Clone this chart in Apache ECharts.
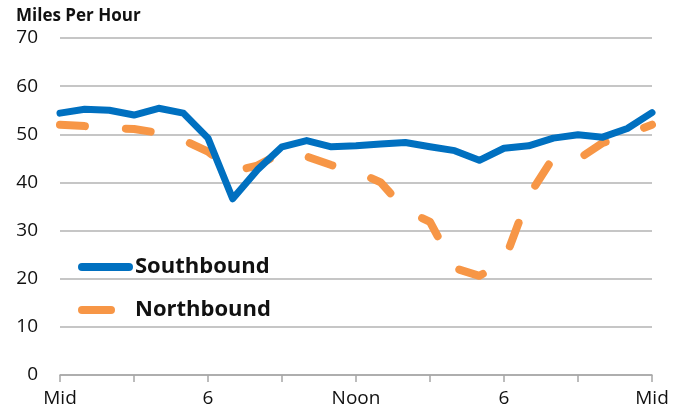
<!DOCTYPE html>
<html>
<head>
<meta charset="utf-8">
<script src="https://cdn.jsdelivr.net/npm/echarts@6/dist/echarts.min.js"></script>
<style>
  html, body { margin: 0; padding: 0; background: #fff; }
  #chart { width: 686px; height: 416px; }
</style>
</head>
<body>
<div id="chart"></div>
<script>
// hours after midnight, one reading per hour
const hours = [0, 1, 2, 3, 4, 5, 6, 7, 8, 9, 10, 11, 12, 13, 14, 15, 16, 17, 18, 19, 20, 21, 22, 23, 24];
const southbound = [54.4, 55.2, 55.0, 54.0, 55.4, 54.4, 49.2, 36.6, 42.6, 47.4, 48.7, 47.4, 47.6, 48.0, 48.3, 47.4, 46.6, 44.6, 47.1, 47.6, 49.2, 49.9, 49.4, 51.2, 54.5];
const northbound = [52.0, 51.7, 51.3, 51.1, 50.3, 48.8, 46.4, 42.3, 43.5, 46.2, 45.4, 43.6, 42.3, 40.0, 34.3, 31.8, 22.2, 20.6, 23.5, 37.2, 45.2, 44.8, 48.2, 50.0, 52.0];
const xLabels = { 0: 'Mid', 6: '6', 12: 'Noon', 18: '6', 24: 'Mid' };

const font = '"Open Sans", "Liberation Sans", sans-serif';
// legend swatches: a full rounded bar, and a single dash inside the same 55px box
const solidIcon = 'path://M4,0 H51 A4,4 0 0 1 51,8 H4 A4,4 0 0 1 4,0 Z';
const dashIcon = 'path://M4,0 H33 A4,4 0 0 1 33,8 H4 A4,4 0 0 1 4,0 Z M55,0 M55,8';

const chart = echarts.init(document.getElementById('chart'), null, { renderer: 'canvas' });

chart.setOption({
  animation: false,
  backgroundColor: '#ffffff',
  title: {
    text: 'Miles Per Hour',
    left: 11, top: 3,
    textStyle: { fontFamily: font, fontSize: 17, fontWeight: 'bold', color: '#111' }
  },
  grid: { left: 60, right: 34, top: 38, bottom: 41 },
  legend: {
    orient: 'vertical',
    left: 73, top: 251,
    itemWidth: 55, itemHeight: 8,
    itemGap: 21,
    textStyle: { fontFamily: font, fontSize: 22, fontWeight: 'bold', color: '#111', padding: [0, 0, 0, -3] },
    data: [
      { name: 'Southbound', icon: solidIcon },
      { name: 'Northbound', icon: dashIcon }
    ]
  },
  xAxis: {
    type: 'value',
    min: 0, max: 24, interval: 3,
    axisLine: { show: true, lineStyle: { color: '#a6a6a6', width: 1.5 } },
    axisTick: { show: true, length: 7, lineStyle: { color: '#a6a6a6', width: 1.5 } },
    splitLine: { show: false },
    axisLabel: {
      margin: 14,
      fontFamily: font, fontSize: 19, color: '#111',
      formatter: v => xLabels[v] ?? ''
    }
  },
  yAxis: {
    type: 'value',
    min: 0, max: 70, interval: 10,
    axisLine: { show: false },
    axisTick: { show: false },
    splitLine: { lineStyle: { color: '#b3b3b3', width: 1.5 } },
    axisLabel: { margin: 22, fontFamily: font, fontSize: 19, color: '#111' }
  },
  series: [
    {
      name: 'Southbound',
      type: 'line',
      symbol: 'none',
      data: hours.map((h, i) => [h, southbound[i]]),
      color: '#0070c0',
      lineStyle: { width: 7, color: '#0070c0', cap: 'round', join: 'round' },
      z: 3
    },
    {
      name: 'Northbound',
      type: 'line',
      symbol: 'none',
      data: hours.map((h, i) => [h, northbound[i]]),
      color: '#f79646',
      lineStyle: { width: 8, color: '#f79646', type: [25, 41], cap: 'round', join: 'round' },
      z: 2
    }
  ]
});
</script>
</body>
</html>
